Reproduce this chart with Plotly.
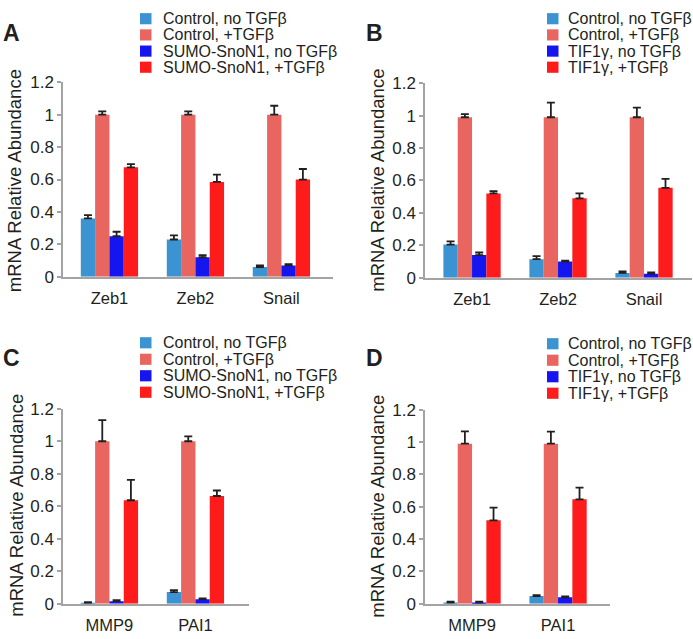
import plotly.graph_objects as go

W, H = 693, 639

genes_AB = ["Zeb1", "Zeb2", "Snail"]
genes_CD = ["MMP9", "PAI1"]

labels_sumo = ["Control, no TGFβ", "Control, +TGFβ", "SUMO-SnoN1, no TGFβ", "SUMO-SnoN1, +TGFβ"]
labels_tif = ["Control, no TGFβ", "Control, +TGFβ", "TIF1γ, no TGFβ", "TIF1γ, +TGFβ"]

# Panel A
A_ctrl_no = [0.36, 0.23, 0.06]
A_ctrl_no_err = [0.02, 0.025, 0.01]
A_ctrl_tgf = [1.0, 1.0, 1.0]
A_ctrl_tgf_err = [0.02, 0.02, 0.055]
A_sumo_no = [0.25, 0.12, 0.07]
A_sumo_no_err = [0.028, 0.013, 0.008]
A_sumo_tgf = [0.675, 0.585, 0.60]
A_sumo_tgf_err = [0.02, 0.045, 0.065]

# Panel B
B_ctrl_no = [0.205, 0.115, 0.03]
B_ctrl_no_err = [0.02, 0.018, 0.01]
B_ctrl_tgf = [0.99, 0.99, 0.99]
B_ctrl_tgf_err = [0.02, 0.09, 0.06]
B_tif_no = [0.14, 0.10, 0.025]
B_tif_no_err = [0.016, 0.006, 0.008]
B_tif_tgf = [0.52, 0.49, 0.555]
B_tif_tgf_err = [0.015, 0.03, 0.055]

# Panel C
C_ctrl_no = [0.006, 0.072]
C_ctrl_no_err = [0.004, 0.012]
C_ctrl_tgf = [1.0, 1.0]
C_ctrl_tgf_err = [0.13, 0.03]
C_sumo_no = [0.016, 0.028]
C_sumo_no_err = [0.006, 0.005]
C_sumo_tgf = [0.637, 0.663]
C_sumo_tgf_err = [0.125, 0.034]

# Panel D
D_ctrl_no = [0.008, 0.048]
D_ctrl_no_err = [0.005, 0.005]
D_ctrl_tgf = [0.99, 0.99]
D_ctrl_tgf_err = [0.076, 0.074]
D_tif_no = [0.008, 0.04]
D_tif_no_err = [0.005, 0.006]
D_tif_tgf = [0.516, 0.646]
D_tif_tgf_err = [0.078, 0.072]

y_ticks = [0, 0.2, 0.4, 0.6, 0.8, 1, 1.2]
y_ticktext = ["0", "0.2", "0.4", "0.6", "0.8", "1", "1.2"]
y_title = "mRNA Relative Abundance"

colors = ["#3b93d1", "#e8665f", "#1515f0", "#fe1b1b"]
TXT = "#231f20"
AX = "#a3a3a3"
FONT = "Liberation Sans, Arial, sans-serif"

panels = [
    dict(key="", cats=genes_AB, letter="A", labels=labels_sumo,
         vals=[A_ctrl_no, A_ctrl_tgf, A_sumo_no, A_sumo_tgf],
         errs=[A_ctrl_no_err, A_ctrl_tgf_err, A_sumo_no_err, A_sumo_tgf_err],
         box=(63, 333, 75.5, 276), xr=(-0.54, 2.6),
         letter_xy=(1, 25), title_xy=(14.5, 177),
         leg_sq=140, leg_tx=161, leg_y=[10, 26.7, 43.4, 60]),
    dict(key="2", cats=genes_AB, letter="B", labels=labels_tif,
         vals=[B_ctrl_no, B_ctrl_tgf, B_tif_no, B_tif_tgf],
         errs=[B_ctrl_no_err, B_ctrl_tgf_err, B_tif_no_err, B_tif_tgf_err],
         box=(425, 692, 76.5, 277), xr=(-0.547, 2.558),
         letter_xy=(364, 25), title_xy=(378, 177),
         leg_sq=547, leg_tx=566, leg_y=[10, 26.7, 43.4, 60]),
    dict(key="3", cats=genes_CD, letter="C", labels=labels_sumo,
         vals=[C_ctrl_no, C_ctrl_tgf, C_sumo_no, C_sumo_tgf],
         errs=[C_ctrl_no_err, C_ctrl_tgf_err, C_sumo_no_err, C_sumo_tgf_err],
         box=(63, 249, 412, 613), xr=(-0.54, 1.623),
         letter_xy=(1, 360), title_xy=(17, 512),
         leg_sq=140, leg_tx=161, leg_y=[344, 361, 378, 395]),
    dict(key="4", cats=genes_CD, letter="D", labels=labels_tif,
         vals=[D_ctrl_no, D_ctrl_tgf, D_tif_no, D_tif_tgf],
         errs=[D_ctrl_no_err, D_ctrl_tgf_err, D_tif_no_err, D_tif_tgf_err],
         box=(425, 610, 413, 613), xr=(-0.547, 1.604),
         letter_xy=(364, 360), title_xy=(378, 513),
         leg_sq=547, leg_tx=566, leg_y=[345, 362, 379, 396]),
]


def px(x):
    return x / W


def py(y):
    return 1 - y / H


fig = go.Figure()
annotations = []
shapes = []
layout = {}

for p in panels:
    k = p["key"]
    for i in range(4):
        fig.add_trace(go.Bar(
            x=p["cats"], y=p["vals"][i], name=p["labels"][i],
            marker=dict(color=colors[i], line=dict(width=0)),
            error_y=dict(type="data", symmetric=False, array=p["errs"][i],
                         arrayminus=[0] * len(p["cats"]),
                         color=TXT, thickness=1.8, width=4),
            xaxis="x" + k, yaxis="y" + k, showlegend=False,
        ))
    x0, x1, y0, y1 = p["box"]
    layout["xaxis" + k] = dict(
        domain=[px(x0), px(x1)], anchor="y" + k, range=list(p["xr"]),
        showline=True, linecolor=AX, linewidth=1.5, ticks="",
        showgrid=False, zeroline=False, fixedrange=True,
        tickfont=dict(family=FONT, size=16.5, color=TXT), ticklabelstandoff=6,
    )
    layout["yaxis" + k] = dict(
        domain=[py(y1), py(y0)], anchor="x" + k, range=[0, 1.2],
        tickvals=y_ticks, ticktext=y_ticktext,
        showline=True, linecolor=AX, linewidth=1.5, ticks="outside",
        ticklen=4, tickcolor=AX, tickwidth=1.5,
        showgrid=False, zeroline=False, fixedrange=True,
        tickfont=dict(family=FONT, size=17, color=TXT),
    )
    lx, ly = p["letter_xy"]
    annotations.append(dict(text="<b>" + p["letter"] + "</b>", x=px(lx), y=py(ly),
                            xref="paper", yref="paper", xanchor="left", yanchor="middle",
                            showarrow=False, font=dict(family=FONT, size=23, color=TXT)))
    tx, ty = p["title_xy"]
    annotations.append(dict(text=y_title, x=px(tx), y=py(ty), textangle=-90,
                            xref="paper", yref="paper", xanchor="center", yanchor="middle",
                            showarrow=False, font=dict(family=FONT, size=18.5, color=TXT)))
    for i in range(4):
        yy = p["leg_y"][i]
        shapes.append(dict(type="rect", xref="paper", yref="paper",
                           x0=px(p["leg_sq"]), x1=px(p["leg_sq"] + 11.5),
                           y0=py(yy + 5.75), y1=py(yy - 5.75),
                           fillcolor=colors[i], line=dict(width=0)))
        annotations.append(dict(text=p["labels"][i], x=px(p["leg_tx"]), y=py(yy),
                                xref="paper", yref="paper", xanchor="left", yanchor="middle",
                                showarrow=False, font=dict(family=FONT, size=16, color=TXT)))

fig.update_layout(
    width=W, height=H, margin=dict(l=0, r=0, t=0, b=0),
    paper_bgcolor="white", plot_bgcolor="white",
    barmode="group", bargap=0.334, bargroupgap=0,
    annotations=annotations, shapes=shapes,
    font=dict(family=FONT, color=TXT),
    **layout,
)

fig.write_html("out.html", config={"displayModeBar": False},
               post_script="document.body.style.margin='0';document.body.style.overflow='hidden';")
